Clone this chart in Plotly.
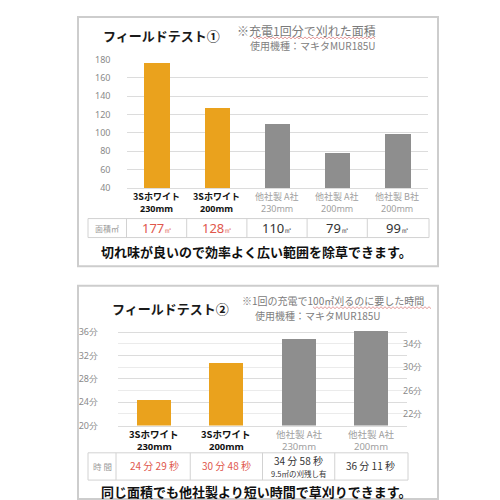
import plotly.graph_objects as go

W = H = 500
def X(p): return p / W
def Y(p): return 1 - p / H

# ---------------- data ----------------
# Field test 1: area cut per charge (m2)
t1_names = ["3Sホワイト", "3Sホワイト", "他社製 A社", "他社製 A社", "他社製 B社"]
t1_sizes = ["230mm", "200mm", "230mm", "200mm", "200mm"]
t1_area = [177, 128, 110, 79, 99]
t1_own = [True, True, False, False, False]
t1_ticks = [40, 60, 80, 100, 120, 140, 160, 180]

# Field test 2: time to cut 100 m2
t2_names = ["3Sホワイト", "3Sホワイト", "他社製 A社", "他社製 A社"]
t2_sizes = ["230mm", "200mm", "230mm", "200mm"]
t2_min = [24, 30, 34, 36]
t2_sec = [29, 48, 58, 11]
t2_note = ["", "", "9.5㎡の刈残し有", ""]
t2_own = [True, True, False, False]
t2_left_ticks = [20, 24, 28, 32, 36]
t2_right_ticks = [22, 26, 30, 34]

# ---------------- style ----------------
ORANGE = "#EAA21D"
GREY = "#8E8E8E"
RED = "#E0574C"
GRID = "#DCDCDC"
GRID2 = "#EBEBEB"
LINE = "#D2D2D2"
JP = "Noto Sans CJK JP"
LAT = "Noto Sans"

cats1 = [f"{n} {s}" for n, s in zip(t1_names, t1_sizes)]
cats2 = [f"{n} {s}" for n, s in zip(t2_names, t2_sizes)]
t2_val = [m + s / 60 for m, s in zip(t2_min, t2_sec)]

fig = go.Figure()
fig.add_trace(go.Bar(x=cats1, y=t1_area, width=0.42,
                     marker=dict(color=[ORANGE if o else GREY for o in t1_own], line_width=0),
                     xaxis="x", yaxis="y", hoverinfo="skip"))
fig.add_trace(go.Bar(x=cats2, y=t2_val, width=0.47,
                     marker=dict(color=[ORANGE if o else GREY for o in t2_own], line_width=0),
                     xaxis="x2", yaxis="y2", hoverinfo="skip"))
# invisible trace to activate right axis
fig.add_trace(go.Scatter(x=[cats2[0]], y=[t2_right_ticks[0]], mode="markers",
                         marker=dict(opacity=0), xaxis="x2", yaxis="y3",
                         hoverinfo="skip", showlegend=False))

tickfont = dict(family=LAT, size=9, color="#8A8A8A")
y2_range = [20, 36.6]

fig.update_layout(
    width=W, height=H, margin=dict(l=0, r=0, t=0, b=0),
    paper_bgcolor="white", plot_bgcolor="white", showlegend=False,
    bargap=0,
    xaxis=dict(domain=[X(118.5), X(419.5)], anchor="y", showticklabels=False,
               showgrid=False, zeroline=False, showline=True, linecolor=GRID,
               range=[-0.5, 4.5], fixedrange=True),
    yaxis=dict(domain=[Y(177.7), Y(45.7)], anchor="x", range=[40, 180],
               tickvals=t1_ticks, showgrid=True, gridcolor=GRID, gridwidth=1,
               zeroline=False, tickfont=tickfont, ticks="", ticklabelstandoff=15),
    xaxis2=dict(domain=[X(110), X(399)], anchor="y2", showticklabels=False,
                showgrid=False, zeroline=False, showline=True, linecolor=GRID,
                range=[-0.5, 3.5]),
    yaxis2=dict(domain=[Y(421.5), Y(421.5 - 6 * (y2_range[1] - y2_range[0]))],
                anchor="x2", range=y2_range,
                tickvals=t2_left_ticks, ticktext=[f"{v}分" for v in t2_left_ticks],
                showgrid=True, gridcolor=GRID, zeroline=False, tickfont=tickfont,
                ticks="", ticklabelstandoff=19),
    yaxis3=dict(overlaying="y2", anchor="free", position=X(394), side="right",
                range=y2_range,
                tickvals=t2_right_ticks, ticktext=[f"{v}分" for v in t2_right_ticks],
                showgrid=True, gridcolor=GRID2, zeroline=False, tickfont=tickfont,
                ticks="", ticklabelstandoff=0),
)

shapes = []
ann = []

def box(x0, y0, x1, y1):
    shapes.append(dict(type="rect", xref="paper", yref="paper",
                       x0=X(x0), x1=X(x1), y0=Y(y1), y1=Y(y0),
                       line=dict(color="#CDCDCD", width=2), fillcolor="rgba(0,0,0,0)",
                       layer="above"))

def wavy(x0, x1, y, amp=1.0, step=2.0):
    pts = []
    x = x0
    k = 0
    while x <= x1:
        yy = y + (amp if k % 2 else -amp)
        pts.append(f"{X(x):.5f},{Y(yy):.5f}")
        x += step
        k += 1
    shapes.append(dict(type="path", xref="paper", yref="paper",
                       path="M " + " L ".join(pts),
                       line=dict(color="#E39B9B", width=1)))

def text(x, y, s, size, color="#222", xanchor="left", font=JP, xref="paper", yanchor="middle"):
    ann.append(dict(x=x if xref != "paper" else X(x), y=Y(y), xref=xref, yref="paper",
                    text=s, showarrow=False, xanchor=xanchor, yanchor=yanchor,
                    font=dict(family=font, size=size, color=color)))

def cat_labels(cats, names, sizes, owns, xref, y1, y2, size):
    for c, n, s, o in zip(cats, names, sizes, owns):
        col = "#111" if o else "#A0A0A0"
        a = f"<b>{n}</b>" if o else n
        b = f"<b>{s}</b>" if o else s
        text(c, y1, a, size, col, xanchor="center", xref=xref)
        text(c, y2, b, size, col, xanchor="center", xref=xref, font=LAT)

# outer boxes
box(70, 2, 430, 258)
box(70, 278, 430, 497)

# ---------- panel 1 ----------
text(93, 21, "<b>フィールドテスト①</b>", 13, "#1A1A1A")
text(227, 16, "※充電1回分で刈れた面積", 12, "#7A7A7A")
wavy(245, 367, 23.5)
text(240, 31.5, "使用機種：マキタMUR185U", 10, "#808080")

cat_labels(cats1, t1_names, t1_sizes, t1_own, "x", 186, 198.5, 9)

# table 1
ty0, ty1 = 209, 228.5
shapes.append(dict(type="rect", xref="paper", yref="paper", x0=X(80), x1=X(421),
                   y0=Y(ty1), y1=Y(ty0), line=dict(color=LINE, width=1)))
shapes.append(dict(type="line", xref="paper", yref="paper", x0=X(118.5), x1=X(118.5),
                   y0=Y(ty1), y1=Y(ty0), line=dict(color=LINE, width=1)))
for i in range(len(cats1) - 1):
    shapes.append(dict(type="line", xref="x", yref="paper", x0=i + 0.5, x1=i + 0.5,
                       y0=Y(ty1), y1=Y(ty0), line=dict(color=LINE, width=1)))
text(99, 219, "面積㎡", 8, "#9A9A9A", xanchor="center")
for c, v, o in zip(cats1, t1_area, t1_own):
    col = RED if o else "#333"
    text(c, 219, f"{v}<span style='font-size:8px'>㎡</span>", 13, col,
         xanchor="center", xref="x", font=LAT)

text(248, 243, "<b>切れ味が良いので効率よく広い範囲を除草できます。</b>", 13, "#111",
     xanchor="center")

# ---------- panel 2 ----------
text(102, 301, "<b>フィールドテスト②</b>", 13, "#1A1A1A")
text(232, 293, "※1回の充電で100㎡刈るのに要した時間", 10, "#7A7A7A")
wavy(305, 423, 300.5)
text(245, 309, "使用機種：マキタMUR185U", 10, "#808080")

cat_labels(cats2, t2_names, t2_sizes, t2_own, "x2", 430.5, 443, 9.5)

ty0, ty1 = 449.5, 477.5
shapes.append(dict(type="rect", xref="paper", yref="paper", x0=X(80), x1=X(400),
                   y0=Y(ty1), y1=Y(ty0), line=dict(color=LINE, width=1)))
shapes.append(dict(type="line", xref="paper", yref="paper", x0=X(108), x1=X(108),
                   y0=Y(ty1), y1=Y(ty0), line=dict(color=LINE, width=1)))
for i in range(len(cats2) - 1):
    shapes.append(dict(type="line", xref="x2", yref="paper", x0=i + 0.5, x1=i + 0.5,
                       y0=Y(ty1), y1=Y(ty0), line=dict(color=LINE, width=1)))
text(94, 463, "時 間", 8.5, "#9A9A9A", xanchor="center")
for c, m, s, note, o in zip(cats2, t2_min, t2_sec, t2_note, t2_own):
    col = RED if o else "#333"
    label = f"{m} 分 {s} 秒"
    if note:
        text(c, 457.8, label, 10, col, xanchor="center", xref="x2")
        text(c, 471, note, 7.5, col, xanchor="center", xref="x2")
    else:
        text(c, 463, label, 10, col, xanchor="center", xref="x2")

text(248, 489, "<b>同じ面積でも他社製より短い時間で草刈りできます。</b>", 13, "#111",
     xanchor="center")

fig.update_layout(shapes=shapes, annotations=ann)
fig.write_html("out.html")
